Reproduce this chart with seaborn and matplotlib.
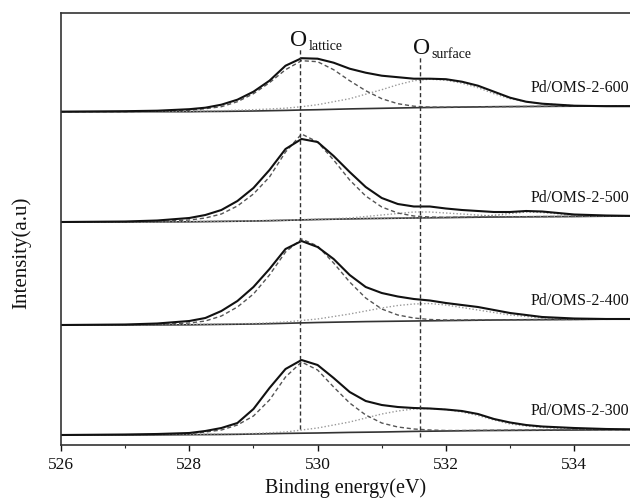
import matplotlib
matplotlib.use("Agg")
import matplotlib.pyplot as plt
import seaborn as sns
from matplotlib.ticker import MultipleLocator

# ---------------- data ----------------
energy = [526, 527, 527.5, 528, 528.25, 528.5, 528.75, 529, 529.25, 529.5,
          529.75, 530, 530.25, 530.5, 530.75, 531, 531.25, 531.5, 531.75, 532,
          532.25, 532.5, 532.75, 533, 533.25, 533.5, 534, 534.5, 535]

samples = ["Pd/OMS-2-600", "Pd/OMS-2-500", "Pd/OMS-2-400", "Pd/OMS-2-300"]
offsets = [333.3, 223.0, 120.0, 10.0]

env_600 = [0, 0.5, 1, 2.5, 4, 7, 12, 20, 31, 46, 53.5, 53, 49, 43, 39, 36, 34.5, 33,
           33, 32.5, 30, 26, 20, 14, 10, 8, 6, 5.5, 5.5]
lat_600 = [0, 0, 0.5, 1.5, 3, 5, 10, 18, 29, 42, 51, 50, 42, 31, 21, 13, 8, 5.5,
           4.6, 4.5, 4.6, 4.8, 5, 5.1, 5.2, 5.3, 5.5, 5.6, 5.7]
sur_600 = [0, 0, 0.3, 0.5, 0.8, 1, 1.5, 2, 2.7, 3.5, 5, 7, 10, 13, 17.5, 22, 27, 31,
           32.5, 31.5, 28.5, 24, 18, 13, 10, 8, 6, 5.6, 5.7]
bg_600 = [0, 0, 0, 0, 0.2, 0.3, 0.5, 0.7, 1, 1.3, 1.7, 2, 2.4, 2.8, 3.1, 3.4, 3.7, 4,
          4.2, 4.4, 4.6, 4.8, 5, 5.1, 5.2, 5.3, 5.5, 5.6, 5.7]

env_500 = [0, 0.5, 1.5, 4, 7, 12, 21, 34, 52, 73, 83, 80, 66, 50, 35, 24, 18, 15.5,
           15.5, 13.5, 12, 11, 10, 10, 11, 10.5, 7.5, 6.5, 6]
lat_500 = [0, 0, 0.5, 2, 4, 8, 16, 28, 45, 70, 88, 80, 62, 42, 26, 15, 9, 6, 5, 4.6,
           4.8, 5, 5.1, 5.2, 5.3, 5.4, 5.6, 5.8, 6]
sur_500 = [0, 0, 0.2, 0.4, 0.6, 0.8, 1, 1.2, 1.6, 2, 2.4, 2.8, 3.4, 4, 5.5, 7, 8.5,
           10, 10, 9, 8, 7, 6, 5.5, 5.4, 5.4, 5.6, 5.8, 6]
hi_500 = [0, 0, 0.1, 0.2, 0.4, 0.6, 0.8, 1, 1.3, 1.7, 2.1, 2.5, 2.8, 3.1, 3.4, 3.6,
          3.8, 4, 4.2, 4.6, 5, 5.6, 6.8, 8.5, 10, 9.5, 7, 6, 6]
bg_500 = [0, 0, 0.1, 0.2, 0.4, 0.6, 0.8, 1, 1.3, 1.7, 2.1, 2.5, 2.8, 3.1, 3.4, 3.6,
          3.8, 4, 4.2, 4.4, 4.6, 4.8, 5, 5.1, 5.2, 5.3, 5.5, 5.8, 6]

env_400 = [0, 0.5, 1.5, 4, 7, 14, 24, 38, 56, 76, 84, 78, 66, 50, 38, 32, 28.5, 26,
           24.5, 22, 20, 18, 15, 12, 10, 8, 6.5, 6, 6]
lat_400 = [0, 0, 0.5, 2, 4, 9, 18, 31, 50, 73, 86, 79, 62, 43, 27, 16, 10, 7, 5.5, 5,
           5, 5.1, 5.2, 5.3, 5.4, 5.5, 5.6, 5.8, 6]
sur_400 = [0, 0.2, 0.4, 0.6, 0.8, 1, 1.3, 1.5, 2.2, 3, 4.5, 6, 8.5, 11, 14, 17, 19.5,
           21, 21.5, 20, 17.5, 15, 12.5, 10, 8.5, 7, 6, 6, 6]
bg_400 = [0, 0, 0.1, 0.2, 0.4, 0.6, 0.8, 1, 1.3, 1.7, 2.1, 2.5, 2.8, 3.1, 3.4, 3.6,
          3.8, 4, 4.2, 4.4, 4.6, 4.8, 5, 5.1, 5.2, 5.3, 5.5, 5.8, 6]

env_300 = [0, 0.5, 1, 2, 4, 7, 12, 26, 47, 66, 75, 70, 57, 43, 34, 30, 28, 27, 26.5,
           25.5, 24, 21, 16, 12.5, 10, 8.5, 7, 6, 5.5]
lat_300 = [0, 0, 0.5, 1.5, 3, 5, 10, 19, 35, 58, 73, 65, 48, 32, 20, 12, 8, 6, 5,
           4.5, 4.5, 4.6, 4.7, 4.8, 4.9, 5, 5.1, 5.3, 5.5]
sur_300 = [0, 0.3, 0.5, 0.7, 0.9, 1.1, 1.3, 1.5, 2.2, 3, 5, 7, 10, 13, 17, 21, 24, 26,
           26.5, 25.5, 23, 19.5, 15, 11, 9, 7.5, 6, 5.7, 5.5]
bg_300 = [0, 0, 0.1, 0.3, 0.4, 0.5, 0.7, 1, 1.3, 1.6, 1.8, 2, 2.3, 2.6, 2.8, 3, 3.3,
          3.6, 3.8, 4, 4.2, 4.4, 4.5, 4.6, 4.7, 4.8, 5, 5.2, 5.5]

envelopes = [env_600, env_500, env_400, env_300]
lattice = [lat_600, lat_500, lat_400, lat_300]
surface = [sur_600, sur_500, sur_400, sur_300]
backgrounds = [bg_600, bg_500, bg_400, bg_300]
extra = {1: hi_500}

peak_names = ["lattice", "surface"]
peak_energies = [529.73, 531.6]
peak_line_spans = [(16, 396), (8, 388)]

x_ticks = [526, 528, 530, 532, 534]

# ---------------- style ----------------
sns.set_theme(style="ticks")
plt.rcParams['font.family'] = ['Liberation Serif', 'DejaVu Serif']

fig = plt.figure(figsize=(6.3, 5.02), dpi=100)
ax = fig.add_axes([61 / 630, 1 - 446 / 502, 1 - 61 / 630, (446 - 14) / 502])

for i, name in enumerate(samples):
    off = offsets[i]
    bg = [v + off for v in backgrounds[i]]
    lat = [v + off for v in lattice[i]]
    sur = [v + off for v in surface[i]]
    env = [v + off for v in envelopes[i]]
    sns.lineplot(x=energy, y=bg, ax=ax, color="#333333", lw=1.2)
    sns.lineplot(x=energy, y=sur, ax=ax, color="#9a9a9a", lw=1.0,
                 linestyle=(0, (1, 1.5)))
    if i in extra:
        ex = [v + off for v in extra[i]]
        sns.lineplot(x=energy, y=ex, ax=ax, color="#8a8a8a", lw=1.0,
                     linestyle=(0, (1, 1.5)))
    sns.lineplot(x=energy, y=lat, ax=ax, color="#555555", lw=1.0,
                 linestyle=(0, (3, 2)))
    sns.lineplot(x=energy, y=env, ax=ax, color="#111111", lw=1.5)
    ax.text(0.998, off + 25, name, transform=ax.get_yaxis_transform(),
            ha="right", va="center", fontsize=11.5, color="#111111")

for e, (y0, y1) in zip(peak_energies, peak_line_spans):
    ax.vlines(e, y0, y1, colors="#333333", lw=1.0, linestyles=(0, (3, 2)))

# O_lattice and O_surface labels
ax.text(529.70, 406, "O", ha="center", va="center", fontsize=17, color="#111111")
ax.text(529.86, 400, "lattice", ha="left", va="center", fontsize=10, color="#111111")
ax.text(531.62, 398, "O", ha="center", va="center", fontsize=17, color="#111111")
ax.text(531.77, 392, "surface", ha="left", va="center", fontsize=10, color="#111111")

ax.set_xlim(526, 534.87)
ax.set_ylim(0, 432)
ax.set_xticks(x_ticks)
ax.xaxis.set_minor_locator(MultipleLocator(1))
ax.set_yticks([])
ax.tick_params(axis="x", which="major", direction="out", length=4, width=1,
               labelsize=12.5, pad=4, colors="#111111")
ax.tick_params(axis="x", which="minor", direction="out", length=2, width=0.8)
ax.spines["right"].set_visible(False)
for s in ["left", "top", "bottom"]:
    ax.spines[s].set_color("#333333")
    ax.spines[s].set_linewidth(1.2)

ax.set_xlabel("Binding energy(eV)", fontsize=14.5, labelpad=4, color="#111111")
ax.set_ylabel("Intensity(a.u)", fontsize=15, color="#111111")
ax.yaxis.set_label_coords(-0.053, 0.447)

fig.savefig("out.png", dpi=100)
